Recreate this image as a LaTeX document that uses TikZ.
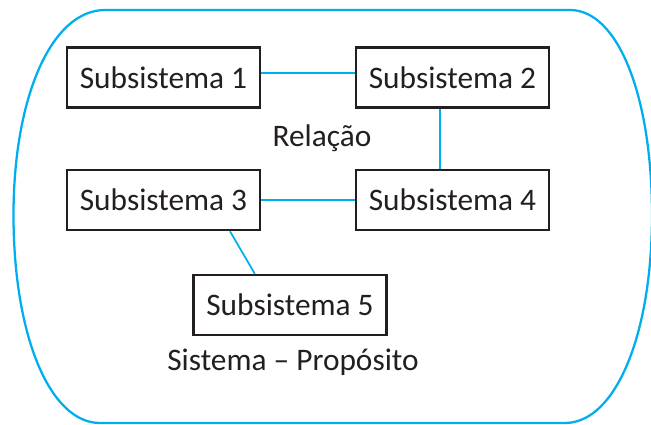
\documentclass[tikz,border=0pt]{standalone}
\usepackage{fontspec}
\setmainfont{Carlito}
\usetikzlibrary{calc}
\definecolor{cyanline}{RGB}{0,174,239}
\definecolor{boxline}{RGB}{35,31,32}
\begin{document}
\begin{tikzpicture}[x=0.75pt,y=-0.75pt,
  sub/.style={draw=boxline,line width=1.9pt,minimum width=193*0.75pt,minimum height=60*0.75pt,inner sep=0pt,font=\fontsize{23.5}{28}\selectfont,text=boxline},
  link/.style={draw=cyanline,line width=1.3pt},
  lbl/.style={font=\fontsize{23.5}{28}\selectfont,text=boxline}]
\useasboundingbox (0,0) rectangle (651,425);
\draw[cyanline,line width=1.7pt] (13.5,215) .. controls (13.5,96) and (52,10) .. (105,10)
  -- (570,10) .. controls (618,10) and (652,96) .. (652,215)
  .. controls (652,336) and (615,423) .. (565,423)
  -- (100,423) .. controls (50,423) and (13.5,336) .. (13.5,215) -- cycle;
\node[sub] (s1) at (163.5,77.5) {Subsistema 1};
\node[sub] (s2) at (452.5,77.5) {Subsistema 2};
\node[sub] (s3) at (163.5,200) {Subsistema 3};
\node[sub] (s4) at (452.5,200) {Subsistema 4};
\node[sub] (s5) at (290,305) {Subsistema 5};
\node[lbl] (rel) at (322,138) {Relação};
\node[lbl] (sis) at (293,362) {Sistema – Propósito};
\draw[link] (s1.east |- 0,73) coordinate (a) -- (s2.west |- a);
\draw[link] ($(s2.south west)!0.435!(s2.south east)$) -- ($(s4.north west)!0.435!(s4.north east)$);
\draw[link] (s3) -- (s4);
\draw[link] ($(s3.south west)!0.84!(s3.south east)$) -- ($(s5.north west)!0.32!(s5.north east)$);
\end{tikzpicture}
\end{document}
